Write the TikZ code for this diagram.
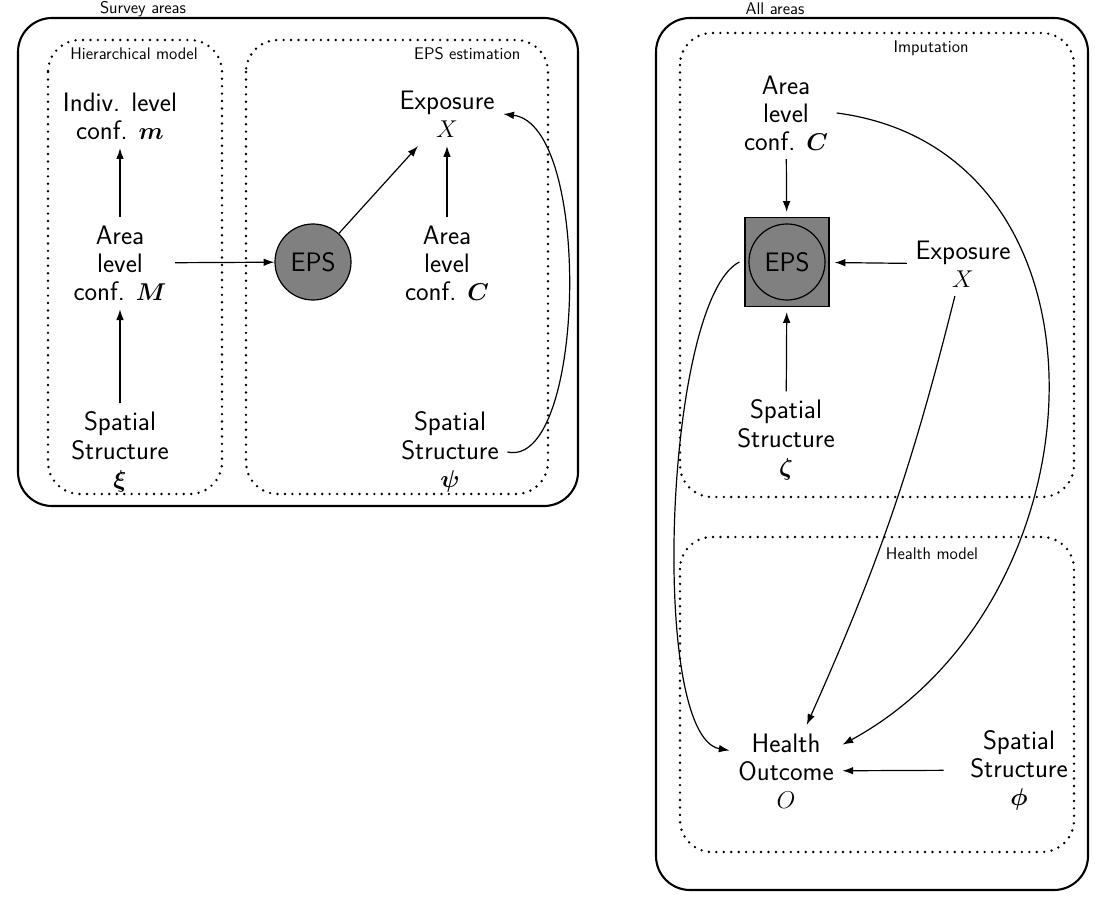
\documentclass[tikz,border=0pt]{standalone}
\usepackage{bm}
\usetikzlibrary{arrows.meta}
\begin{document}
\begin{tikzpicture}[x=0.025cm, y=0.025cm, >={Latex[length=2.7mm,width=1.9mm]},
  var/.style = {align=center, font=\sffamily\fontsize{19}{20}\selectfont, inner sep=6pt},
  lbl/.style = {font=\sffamily\fontsize{12}{14}\selectfont, inner sep=1pt},
  frame/.style = {draw, line width=1.5pt, rounded corners=0.85cm},
  plate/.style = {draw, line width=1.9pt, line cap=round, dash pattern=on 0pt off 5.3pt, rounded corners=0.8cm},
  arr/.style = {->, line width=0.85pt},
  eps/.style = {draw, circle, minimum size=1.9cm, line width=0.85pt, font=\sffamily\fontsize{19}{20}\selectfont}]
\useasboundingbox (0,0) rectangle (1106,-906);
% survey areas
\draw[frame] (18,-18) rectangle (578,-506);
\draw[plate] (48,-40) rectangle (222,-494);
\draw[plate] (246,-40) rectangle (548,-494);
\node[lbl] (survey) at (143,-9) {Survey areas};
\node[lbl] (hier) at (134,-54) {Hierarchical model};
\node[lbl, anchor=east] (epsest) at (522,-54) {EPS estimation};
\node[var] (indA) at (120,-116) {Indiv. level\\conf. $\bm{m}$};
\node[var] (acA) at (120,-263) {Area\\level\\conf. $\bm{M}$};
\node[var] (ssA) at (120,-452) {Spatial\\Structure\\$\bm{\xi}$};
\node[eps, fill=gray] (epsA) at (313,-262) {EPS};
\node[var] (expA) at (447,-114) {Exposure\\$X$};
\node[var] (acC) at (447,-263) {Area\\level\\conf. $\bm{C}$};
\node[var] (ssC) at (450,-452) {Spatial\\Structure\\$\bm{\psi}$};
\draw[arr] (acA) -- (indA);
\draw[arr] (ssA) -- (acA);
\draw[arr] (acA) -- (epsA);
\draw[arr] (epsA) -- (expA);
\draw[arr] (acC) -- (expA);
\draw[arr] (ssC.east) .. controls +(78,-17) and +(90,-11) .. (expA.east);
% all areas
\draw[frame] (656,-18) rectangle (1088,-890);
\draw[plate] (680,-33) rectangle (1074,-497);
\draw[plate] (680,-537) rectangle (1074,-852);
\node[lbl] (all) at (775,-9) {All areas};
\node[lbl] (imp) at (931,-48) {Imputation};
\node[lbl] (health) at (932,-554) {Health model};
\node[var] (acB) at (786,-113) {Area\\level\\conf. $\bm{C}$};
\node[draw, fill=gray, minimum width=2.1cm, minimum height=2.22cm, line width=0.85pt, outer sep=4pt] (epsB) at (787,-262) {};
\node[eps] (epsBc) at (epsB) {EPS};
\node[var] (expB) at (963,-264) {Exposure\\$X$};
\node[var] (ssB) at (786,-440) {Spatial\\Structure\\$\bm{\zeta}$};
\node[var] (hoB) at (786,-771) {Health\\Outcome\\$O$};
\node[var] (ssD) at (1019,-770) {Spatial\\Structure\\$\bm{\phi}$};
\draw[arr] (acB) -- (epsB);
\draw[arr] (expB) -- (epsB);
\draw[arr] (ssB) -- (epsB);
\draw[arr, shorten <=0.45cm] (ssD) -- (hoB);
\draw[arr] (expB) to[bend left=5] (hoB);
\draw[arr] (epsB.west) .. controls +(-75,-38) and +(-81,14) .. (hoB.160);
\draw[arr] (acB.east) .. controls +(290,-38) and +(266,145) .. (hoB.25);
\end{tikzpicture}
\end{document}
